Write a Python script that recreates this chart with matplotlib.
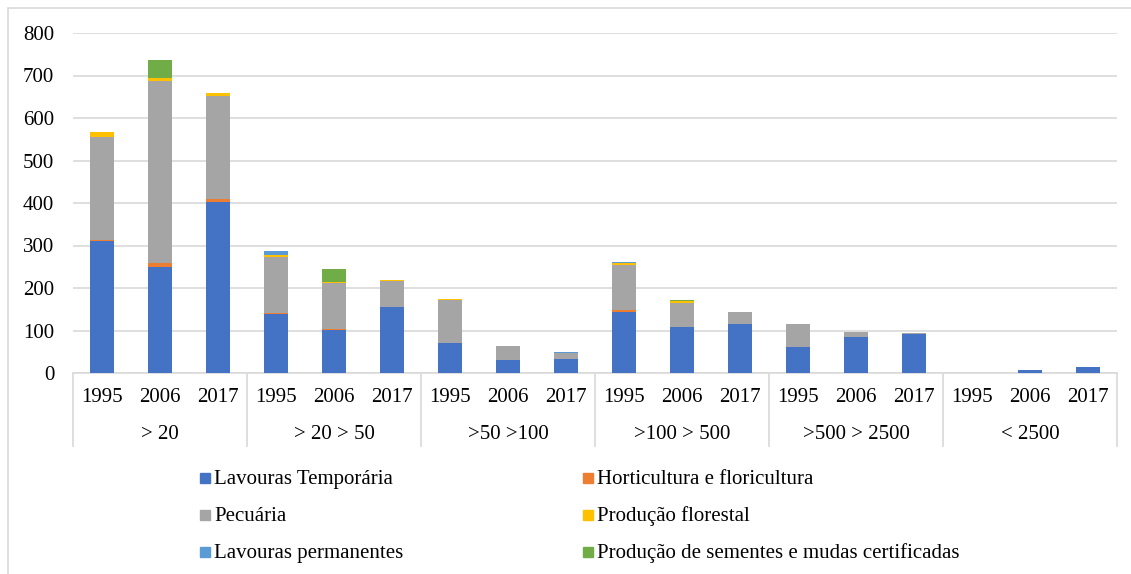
import matplotlib.pyplot as plt
from matplotlib.patches import Rectangle

plt.rcParams['font.family'] = ['Liberation Serif', 'DejaVu Serif']
plt.rcParams['font.size'] = 15

# Dados por classe de área e ano
anos = ['1995', '2006', '2017']
classes = ['> 20', '> 20 > 50', '>50 >100', '>100 > 500', '>500 > 2500', '< 2500']

lavouras_temporaria = [310, 249, 403, 140, 102, 155, 71, 31, 34, 144, 108, 116, 61, 85, 91, 0, 8, 14]
horticultura = [4, 9, 6, 1, 2, 0, 0, 0, 0, 4, 0, 0, 0, 0, 0, 0, 0, 0]
pecuaria = [242, 430, 243, 132, 108, 62, 101, 33, 12, 105, 57, 27, 54, 12, 2, 0, 0, 0]
producao_florestal = [11, 7, 8, 5, 3, 1, 1, 0, 0, 5, 4, 0, 1, 0, 0, 0, 0, 0]
lavouras_permanentes = [0, 0, 0, 9, 0, 0, 0, 0, 3, 3, 0, 0, 0, 0, 0, 0, 0, 0]
sementes = [0, 42, 0, 0, 29, 0, 0, 0, 0, 0, 3, 0, 0, 0, 0, 0, 0, 0]

series = [
    ('Lavouras Temporária', lavouras_temporaria, '#4472C4'),
    ('Horticultura e floricultura', horticultura, '#ED7D31'),
    ('Pecuária', pecuaria, '#A5A5A5'),
    ('Produção florestal', producao_florestal, '#FFC000'),
    ('Lavouras permanentes', lavouras_permanentes, '#5B9BD5'),
    ('Produção de sementes e mudas certificadas', sementes, '#70AD47'),
]

W, H = 1131, 574
fig = plt.figure(figsize=(W / 100, H / 100), dpi=100)
ax = fig.add_axes([73 / W, (H - 373) / H, (1117 - 73) / W, 340 / H])

x = list(range(len(lavouras_temporaria)))
base = [0] * len(x)
for nome, valores, cor in series:
    ax.bar(x, valores, width=0.4, bottom=base, color=cor, label=nome, zorder=3)
    base = [b + v for b, v in zip(base, valores)]

ax.set_xlim(-0.5, len(x) - 0.5)
ax.set_ylim(0, 800)
ax.set_yticks(range(0, 801, 100))
ax.yaxis.grid(True, color='#d9d9d9', linewidth=1.2, zorder=0)
ax.tick_params(axis='y', length=0, pad=13.5)
ax.set_xticks([])
for lado in ['left', 'right', 'top']:
    ax.spines[lado].set_visible(False)
ax.spines['bottom'].set_color('#d9d9d9')
ax.spines['bottom'].set_linewidth(1.2)

# Eixo de categorias em dois níveis
trans = ax.get_xaxis_transform()
for i in x:
    ax.text(i, -0.0706, anos[i % 3], transform=trans, ha='center', va='center')
for k, classe in enumerate(classes):
    ax.text(3 * k + 1, -0.182, classe, transform=trans, ha='center', va='center')
ax.vlines([3 * k - 0.5 for k in range(len(classes) + 1)], -0.2176, 0,
          transform=trans, color='#d9d9d9', linewidth=1.2, clip_on=False)

# Legenda em duas colunas (marcador centrado na altura das maiúsculas)
col_x = [200, 583]
base_y = [484, 521, 558]
for n, (nome, valores, cor) in enumerate(series):
    px = col_x[n % 2]
    py = base_y[n // 2]
    fig.add_artist(Rectangle((px / W, (H - py + 1) / H), 10 / W, 10 / H,
                             transform=fig.transFigure, color=cor))
    fig.text((px + 14) / W, (H - py) / H, nome, ha='left', va='baseline')

# Moldura do gráfico
fig.add_artist(Rectangle((8 / W, -0.05), 1.1, (H - 8) / H + 0.05, transform=fig.transFigure,
                         fill=False, edgecolor='#d9d9d9', linewidth=1.2))

fig.savefig('out.png', dpi=100)
